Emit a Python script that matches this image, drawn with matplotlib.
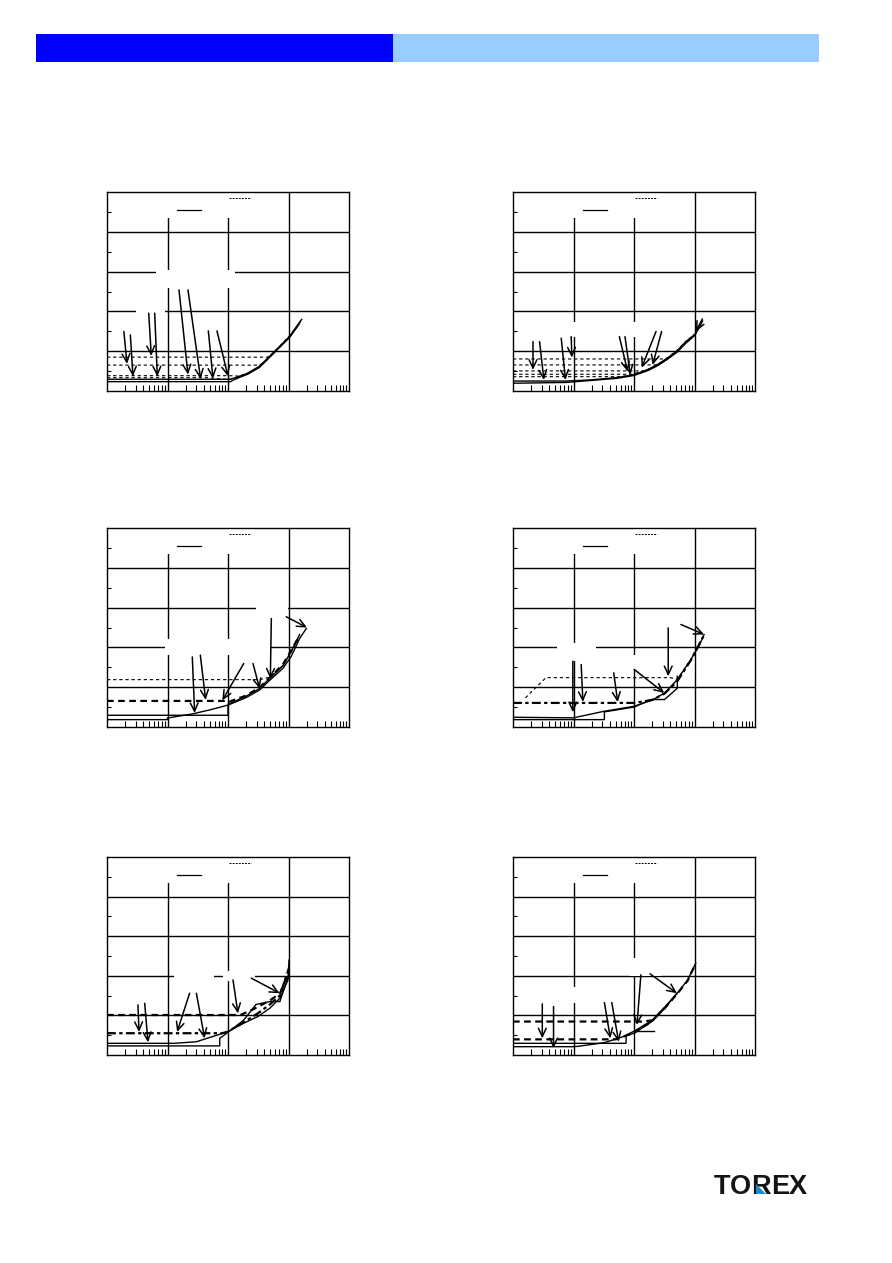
import matplotlib
matplotlib.use("Agg")
import matplotlib.pyplot as plt
from matplotlib.patches import Rectangle, Polygon
from matplotlib.ticker import FixedLocator

# ---------------------------------------------------------------------------
# Data: output current (mA, log axis) vs ripple (arbitrary 0-100 scale)
# "s" = PWM (solid), "d" = PWM/PFM (dashed)
# ---------------------------------------------------------------------------

# Chart 1
c1_s1_x = [0.1, 11, 15, 20, 33, 52, 76, 105, 165]
c1_s1_y = [5.9, 5.9, 7.3, 8.6, 12.4, 18.3, 23.2, 27.6, 36.0]
c1_s2_x = [0.1, 11, 12.5, 16, 21, 33, 52, 76, 105, 150]
c1_s2_y = [4.7, 4.7, 5.6, 7.0, 8.4, 11.8, 17.8, 22.8, 27.0, 33.6]
c1_d1_x = [0.1, 45, 52, 76, 105, 160]
c1_d1_y = [17.0, 17.0, 18.2, 23.4, 27.8, 35.2]
c1_d2_x = [0.1, 33, 40, 52, 76, 105, 140]
c1_d2_y = [13.0, 13.0, 14.5, 17.9, 22.9, 27.2, 32.5]
c1_d3_x = [0.1, 10, 15, 21, 33, 52, 76, 105, 155]
c1_d3_y = [7.7, 7.7, 7.5, 8.8, 12.2, 18.0, 23.0, 27.4, 34.5]
c1_d4_x = [0.1, 5, 8, 12, 16, 21, 33, 52, 76, 105, 160]
c1_d4_y = [6.7, 6.7, 5.9, 6.0, 7.2, 8.6, 12.0, 17.8, 22.8, 27.1, 35.3]
c1_arrows = [(0.19, 29.9, 0.214, 13.6), (0.243, 28.2, 0.269, 7.3),
             (0.489, 39.1, 0.54, 17.6), (0.614, 39.1, 0.679, 7.3),
             (1.55, 50.8, 2.18, 8.2), (2.18, 50.8, 3.53, 6.0),
             (4.73, 30.2, 5.65, 6.3), (6.57, 30.2, 10.0, 7.4)]

# Chart 2
c2_s1_x = [0.1, 0.76, 1.95, 5.4, 10, 16.8, 24.5, 36, 52, 72, 105, 136]
c2_s1_y = [5.0, 5.0, 5.6, 6.8, 8.2, 10.8, 13.3, 16.6, 20.3, 24.8, 28.8, 35.2]
c2_s2_x = [0.1, 0.76, 1.95, 5.4, 10, 16.8, 24.5, 36, 52, 72, 100]
c2_s2_y = [3.9, 4.3, 5.3, 6.4, 7.8, 10.2, 12.7, 16.0, 19.6, 24.0, 27.8]
c2_d1_x = [0.1, 32, 36, 52, 72, 105, 140]
c2_d1_y = [16.1, 16.1, 16.8, 20.5, 25.0, 29.0, 35.8]
c2_d2_x = [0.1, 23, 36, 52, 72, 100]
c2_d2_y = [13.1, 13.1, 16.2, 20.0, 24.5, 28.2]
c2_d3_x = [0.1, 15, 24.5, 36, 52, 72, 105]
c2_d3_y = [10.1, 10.1, 13.0, 16.3, 20.1, 24.6, 28.6]
c2_d4_x = [0.1, 9, 16.8, 24.5, 36, 52, 72]
c2_d4_y = [8.4, 8.4, 10.5, 13.0, 16.4, 20.2, 24.7]
c2_d5_x = [0.1, 6, 10, 16.8, 24.5, 36]
c2_d5_y = [7.2, 7.2, 8.0, 10.6, 13.1, 16.5]
c2_arrows = [(0.214, 24.8, 0.214, 10.6), (0.275, 24.8, 0.324, 5.5),
             (0.627, 26.5, 0.738, 5.5), (0.916, 27.3, 0.94, 16.8),
             (5.73, 27.3, 7.87, 9.7), (7.1, 27.3, 8.7, 8.1),
             (23.1, 29.9, 13.4, 11.7), (28.6, 29.9, 20.3, 13.1),
             (135, 36.2, 105, 29.9)]

# Chart 3
c3_s1_x = [0.1, 10, 10, 20, 33, 49, 81, 111, 153]
c3_s1_y = [5.9, 5.9, 11.4, 15.5, 19.3, 24.5, 30.8, 38.0, 46.5]
c3_s2_x = [0.1, 1.0, 1.0, 2.6, 5, 10, 20, 33, 49, 81, 111, 153, 197]
c3_s2_y = [3.7, 3.7, 4.5, 6.6, 8.6, 11.0, 14.8, 18.5, 23.5, 29.5, 35.5, 44.5, 49.5]
c3_d1_x = [0.1, 33, 49, 81, 111, 150]
c3_d1_y = [23.8, 23.8, 25.0, 31.0, 37.5, 45.5]
c3_d2_x = [0.1, 9, 10, 20, 33, 49, 81, 111, 140]
c3_d2_y = [13.1, 13.1, 12.5, 15.8, 19.8, 24.8, 31.5, 38.5, 44.0]
c3_arrows = [(2.57, 35.2, 2.81, 7.0), (3.49, 36.1, 4.27, 13.6),
             (18.2, 31.9, 8.05, 13.4), (25.9, 31.9, 33.3, 19.3),
             (52, 54.5, 50.1, 24.3), (92, 55.4, 202, 50.0)]

# Chart 4
c4_s1_x = [0.1, 1.0, 3.2, 10, 20, 32, 52, 87, 120, 144]
c4_s1_y = [4.9, 4.6, 7.9, 10.4, 13.5, 17.1, 23.8, 33.9, 41.0, 46.5]
c4_s2_x = [0.1, 3.24, 3.24, 10, 19, 32, 52, 52]
c4_s2_y = [3.7, 3.7, 7.6, 10.0, 13.8, 13.8, 19.5, 25.5]
c4_d1_x = [0.16, 0.35, 40, 52, 87, 144]
c4_d1_y = [14.6, 24.8, 24.8, 24.0, 34.0, 46.5]
c4_d2_x = [0.1, 10, 20, 32, 52, 87, 140]
c4_d2_y = [12.1, 12.1, 13.6, 16.8, 23.0, 33.5, 45.5]
c4_arrows = [(0.975, 33.1, 0.975, 7.4), (1.34, 31.4, 1.43, 12.6),
             (4.62, 27.2, 5.38, 12.5), (36.8, 49.8, 36.8, 25.5),
             (10.1, 28.9, 31.6, 17.1), (59.6, 51.5, 144, 46.5)]

# Chart 5
c5_s1_x = [0.1, 1.3, 3.0, 10, 18, 31, 49, 72, 98, 102]
c5_s1_y = [5.9, 5.9, 6.7, 11.8, 16.0, 19.4, 23.6, 28.7, 37.9, 48.0]
c5_s2_x = [0.1, 7.3, 7.3, 10, 18, 29, 49, 72, 100]
c5_s2_y = [4.6, 4.6, 8.4, 11.5, 17.5, 25.5, 27.0, 27.0, 40.0]
c5_d1_x = [0.1, 16, 25, 49, 72, 100]
c5_d1_y = [20.2, 20.2, 22.8, 27.5, 31.0, 42.0]
c5_d2_x = [0.1, 8, 10, 18, 31, 49, 72, 102]
c5_d2_y = [11.0, 11.0, 11.8, 16.5, 21.0, 25.5, 30.0, 44.0]
c5_arrows = [(0.325, 25.3, 0.338, 11.6), (0.42, 26.1, 0.476, 6.4),
             (2.32, 31.2, 1.44, 11.6), (3.0, 31.2, 4.11, 8.4),
             (12.1, 37.9, 14.6, 21.0), (24.3, 38.8, 71.5, 31.2)]

# Chart 6
c6_s1_x = [0.1, 1.0, 1.2, 3.2, 10, 20, 32, 52, 77, 105]
c6_s1_y = [4.2, 4.2, 4.4, 6.2, 11.0, 17.0, 23.6, 31.2, 37.9, 46.4]
c6_s2_x = [0.1, 7.4, 7.4, 10, 20, 32, 52]
c6_s2_y = [5.9, 5.9, 10.1, 12.0, 17.5, 24.0, 31.5]
c6_s3_x = [10.1, 21.6]
c6_s3_y = [12.1, 12.1]
c6_d1_x = [0.1, 14, 20, 32, 52, 77, 100]
c6_d1_y = [16.9, 16.9, 17.5, 23.5, 31.0, 37.5, 45.0]
c6_d2_x = [0.1, 5, 10, 20, 32]
c6_d2_y = [7.9, 7.9, 11.2, 17.2, 23.8]
c6_arrows = [(0.305, 25.8, 0.305, 8.4), (0.468, 24.5, 0.468, 3.4),
             (3.24, 26.5, 4.07, 8.4), (4.29, 26.5, 5.58, 6.7),
             (13.0, 40.5, 11.2, 15.2), (18.4, 41.0, 51.2, 31.2)]

# Blank label boxes (axes fraction: x, y, w, h)
legend_box = (0.02, 0.87, 0.66, 0.125)
c1_boxes = [(0.204, 0.517, 0.324, 0.092), (0.121, 0.393, 0.12, 0.074)]
c2_boxes = [(0.173, 0.273, 0.346, 0.075)]
c3_boxes = [(0.617, 0.55, 0.131, 0.07), (0.238, 0.361, 0.441, 0.079)]
c4_boxes = [(0.18, 0.331, 0.162, 0.092), (0.463, 0.292, 0.083, 0.072)]
c5_boxes = [(0.275, 0.32, 0.169, 0.093), (0.479, 0.376, 0.131, 0.046)]
c6_boxes = [(0.048, 0.265, 0.415, 0.078), (0.48, 0.40, 0.13, 0.089)]

# Logo letters and their left edges (px)
logo_letters = ["T", "O", "R", "E", "X"]
logo_left_px = [714, 730, 751, 771, 789]

# ---------------------------------------------------------------------------
W, H = 892, 1263
fig = plt.figure(figsize=(W / 100, H / 100), dpi=100)
fig.patch.set_facecolor("white")

LINE_STYLES = {
    "solid": dict(color="black", lw=1.0, ls="-"),
    "dash": dict(color="black", lw=0.8, dashes=(3, 2.5)),
    "bdash": dict(color="black", lw=1.6, dashes=(3, 2)),
    "bdashdot": dict(color="black", lw=1.6, dashes=(4, 1.5, 1.5, 1.5)),
}

charts = [
    dict(rect=(107, 192, 349, 391),
         series=[(c1_s1_x, c1_s1_y, "solid"), (c1_s2_x, c1_s2_y, "solid"),
                 (c1_d1_x, c1_d1_y, "dash"), (c1_d2_x, c1_d2_y, "dash"),
                 (c1_d3_x, c1_d3_y, "dash"), (c1_d4_x, c1_d4_y, "dash")],
         arrows=c1_arrows, boxes=c1_boxes),
    dict(rect=(513, 192, 755, 391),
         series=[(c2_s1_x, c2_s1_y, "solid"), (c2_s2_x, c2_s2_y, "solid"),
                 (c2_d1_x, c2_d1_y, "dash"), (c2_d2_x, c2_d2_y, "dash"),
                 (c2_d3_x, c2_d3_y, "dash"), (c2_d4_x, c2_d4_y, "dash"),
                 (c2_d5_x, c2_d5_y, "dash")],
         arrows=c2_arrows, boxes=c2_boxes),
    dict(rect=(107, 528, 349, 727),
         series=[(c3_s1_x, c3_s1_y, "solid"), (c3_s2_x, c3_s2_y, "solid"),
                 (c3_d1_x, c3_d1_y, "dash"), (c3_d2_x, c3_d2_y, "bdash")],
         arrows=c3_arrows, boxes=c3_boxes),
    dict(rect=(513, 528, 755, 727),
         series=[(c4_s1_x, c4_s1_y, "solid"), (c4_s2_x, c4_s2_y, "solid"),
                 (c4_d1_x, c4_d1_y, "dash"), (c4_d2_x, c4_d2_y, "bdashdot")],
         arrows=c4_arrows, boxes=c4_boxes),
    dict(rect=(107, 857, 349, 1055),
         series=[(c5_s1_x, c5_s1_y, "solid"), (c5_s2_x, c5_s2_y, "solid"),
                 (c5_d1_x, c5_d1_y, "bdash"), (c5_d2_x, c5_d2_y, "bdashdot")],
         arrows=c5_arrows, boxes=c5_boxes),
    dict(rect=(513, 857, 755, 1055),
         series=[(c6_s1_x, c6_s1_y, "solid"), (c6_s2_x, c6_s2_y, "solid"),
                 (c6_s3_x, c6_s3_y, "solid"),
                 (c6_d1_x, c6_d1_y, "bdash"), (c6_d2_x, c6_d2_y, "bdash")],
         arrows=c6_arrows, boxes=c6_boxes),
]

x_minor = [k * 10.0 ** e for e in (-1, 0, 1, 2) for k in range(2, 10)]


def make_axes(rect):
    left, top, right, bottom = rect
    ax = fig.add_axes([left / W, 1 - bottom / H, (right - left) / W, (bottom - top) / H])
    ax.set_xscale("log")
    ax.set_xlim(0.1, 1000)
    ax.set_ylim(0, 100)
    ax.set_axisbelow(True)
    ax.xaxis.set_major_locator(FixedLocator([1, 10, 100]))
    ax.xaxis.set_minor_locator(FixedLocator(x_minor))
    ax.yaxis.set_major_locator(FixedLocator([20, 40, 60, 80]))
    ax.yaxis.set_minor_locator(FixedLocator([10, 30, 50, 70, 90]))
    ax.grid(which="major", color="black", lw=1.0)
    ax.tick_params(which="both", labelbottom=False, labelleft=False,
                   labeltop=False, labelright=False)
    ax.tick_params(which="major", length=0)
    ax.tick_params(axis="x", which="minor", direction="in", length=4, width=0.8,
                   bottom=True, top=False)
    ax.tick_params(axis="y", which="minor", direction="in", length=3, width=0.8,
                   left=True, right=False)
    for sp in ax.spines.values():
        sp.set_linewidth(1.0)
        sp.set_zorder(5)
    return ax


for ch in charts:
    ax = make_axes(ch["rect"])
    # blank label areas
    for (bx, by, bw, bh) in [legend_box] + ch["boxes"]:
        ax.add_patch(Rectangle((bx, by), bw, bh, transform=ax.transAxes,
                               facecolor="white", edgecolor="none", zorder=1))
    # legend samples
    ax.plot([0.29, 0.39], [0.91, 0.91], transform=ax.transAxes,
            color="black", lw=0.9, zorder=3)
    ax.plot([0.505, 0.595], [0.97, 0.97], transform=ax.transAxes,
            color="black", lw=0.7, dashes=(2, 1.2), zorder=3)
    for x, y, kind in ch["series"]:
        ax.plot(x, y, zorder=3, solid_joinstyle="miter", **LINE_STYLES[kind])
    for tx, ty, hx, hy in ch["arrows"]:
        ax.annotate("", xy=(hx, hy), xytext=(tx, ty), zorder=4,
                    arrowprops=dict(arrowstyle="->,head_length=0.6,head_width=0.28",
                                    lw=1.1, color="black", shrinkA=0, shrinkB=0))

# header bar
fig.add_artist(Rectangle((36 / W, 1 - 62 / H), (393 - 36) / W, 28 / H,
                         transform=fig.transFigure, facecolor="#0000FF",
                         edgecolor="none"))
fig.add_artist(Rectangle((393 / W, 1 - 62 / H), (819 - 393) / W, 28 / H,
                         transform=fig.transFigure, facecolor="#99CCFF",
                         edgecolor="none"))

# logo
for letter, lx in zip(logo_letters, logo_left_px):
    fig.text(lx / W, 1 - 1194 / H, letter, fontsize=19.5, family="Liberation Sans",
             weight="bold", ha="left", va="baseline", color="#141414")
fig.add_artist(Polygon([(756 / W, 1 - 1184 / H), (756 / W, 1 - 1194 / H),
                        (766 / W, 1 - 1194 / H)], closed=True,
                       transform=fig.transFigure, facecolor="#1C8AD0",
                       edgecolor="none", zorder=6))

fig.savefig("out.png", dpi=100, facecolor="white")
